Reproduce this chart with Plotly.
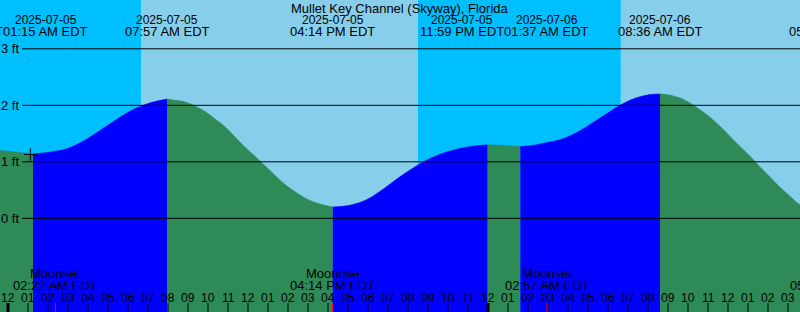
import plotly.graph_objects as go
import pandas as pd

station = "Mullet Key Channel (Skyway), Florida"
view_start = "2025-07-04 23:36"
view_end = "2025-07-06 15:36"
y_min, y_max = -1.658, 3.864

# water level readings (ft)
level_times = [
    "2025-07-04 22:17", "2025-07-04 23:36", "2025-07-05 01:15", "2025-07-05 02:05",
    "2025-07-05 02:56", "2025-07-05 03:44", "2025-07-05 04:35", "2025-07-05 05:26",
    "2025-07-05 06:14", "2025-07-05 07:05", "2025-07-05 07:57",
    "2025-07-05 08:21", "2025-07-05 08:51", "2025-07-05 09:21", "2025-07-05 09:51",
    "2025-07-05 10:21", "2025-07-05 10:51", "2025-07-05 11:21", "2025-07-05 11:51",
    "2025-07-05 12:21", "2025-07-05 12:51", "2025-07-05 13:21", "2025-07-05 13:51",
    "2025-07-05 14:21", "2025-07-05 14:51", "2025-07-05 15:21", "2025-07-05 15:51",
    "2025-07-05 16:14", "2025-07-05 17:05", "2025-07-05 17:56", "2025-07-05 18:44",
    "2025-07-05 19:35", "2025-07-05 20:26", "2025-07-05 21:14", "2025-07-05 22:05",
    "2025-07-05 22:56", "2025-07-05 23:59", "2025-07-06 00:50", "2025-07-06 01:37",
    "2025-07-06 02:14", "2025-07-06 03:05", "2025-07-06 03:36", "2025-07-06 04:06",
    "2025-07-06 04:36", "2025-07-06 05:06", "2025-07-06 05:36", "2025-07-06 06:06",
    "2025-07-06 06:36", "2025-07-06 07:06", "2025-07-06 07:36", "2025-07-06 08:06",
    "2025-07-06 08:36", "2025-07-06 09:06", "2025-07-06 09:36", "2025-07-06 10:06",
    "2025-07-06 10:36", "2025-07-06 11:06", "2025-07-06 11:36", "2025-07-06 12:06",
    "2025-07-06 12:36", "2025-07-06 13:06", "2025-07-06 13:36", "2025-07-06 14:06",
    "2025-07-06 14:36", "2025-07-06 15:06", "2025-07-06 15:36", "2025-07-06 17:09",
]
level_ft = [
    1.24, 1.20, 1.14, 1.17,
    1.23, 1.36, 1.55, 1.75,
    1.92, 2.04, 2.11,
    2.09, 2.06, 1.99, 1.89,
    1.76, 1.62, 1.44, 1.26,
    1.10, 0.93, 0.76, 0.60,
    0.47, 0.36, 0.28, 0.23,
    0.20, 0.23, 0.33, 0.51,
    0.73, 0.93, 1.08, 1.19,
    1.26, 1.30, 1.29, 1.27,
    1.29, 1.35, 1.39, 1.46,
    1.55, 1.66, 1.775, 1.89,
    2.00, 2.09, 2.15, 2.19,
    2.20, 2.18, 2.13, 2.04,
    1.92, 1.79, 1.63, 1.45,
    1.27, 1.10, 0.91, 0.73,
    0.55, 0.39, 0.24, 0.05,
]

# high / low tide events
event_times = ["2025-07-04 22:17", "2025-07-05 01:15", "2025-07-05 07:57", "2025-07-05 16:14",
               "2025-07-05 23:59", "2025-07-06 01:37", "2025-07-06 08:36", "2025-07-06 17:09"]
event_kind = ["high", "low", "high", "low", "high", "low", "high", "low"]
event_date_text = ["2025-07-04", "2025-07-05", "2025-07-05", "2025-07-05",
                   "2025-07-05", "2025-07-06", "2025-07-06", "2025-07-06"]
event_time_text = ["10:17 PM EDT", "01:15 AM EDT", "07:57 AM EDT", "04:14 PM EDT",
                   "11:59 PM EDT", "01:37 AM EDT", "08:36 AM EDT", "05:09 PM EDT"]

# night spans (sunset -> sunrise)
night_start = ["2025-07-04 20:31", "2025-07-05 20:30"]
night_end = ["2025-07-05 06:39", "2025-07-06 06:38"]

# moon events
moon_times = ["2025-07-05 02:22", "2025-07-05 16:14", "2025-07-06 02:57", "2025-07-06 17:13"]
moon_kind = ["Moonset", "Moonrise", "Moonset", "Moonrise"]
moon_time_text = ["02:22 AM EDT", "04:14 PM EDT", "02:57 AM EDT", "05:13 PM EDT"]

now_time, now_level = "2025-07-05 01:07", 1.13

grid_levels = [0, 1, 2, 3]
hour_times = pd.date_range("2025-07-05 00:00", "2025-07-06 15:00", freq="h")
hour_labels = [h.strftime("%I") for h in hour_times]

DAY = "#87CEEB"
NIGHT = "#00BFFF"
FLOOD = "#0000FF"
EBB = "#2E8B57"
FONT = "Liberation Sans, Arial, sans-serif"
W, H = 800, 312

t0, t1 = pd.Timestamp(view_start), pd.Timestamp(view_end)
lt = pd.to_datetime(level_times)
et = pd.to_datetime(event_times)


def px(t):
    return (pd.Timestamp(t) - t0) / (t1 - t0) * W


def py_paper(pix):
    return 1 - pix / H


fig = go.Figure()

# water fills, one per rising/falling segment
for i in range(len(et) - 1):
    a, b = et[i], et[i + 1]
    mask = (lt >= a) & (lt <= b)
    col = FLOOD if event_kind[i] == "low" else EBB
    fig.add_trace(go.Scatter(x=[a, b], y=[y_min - 1, y_min - 1], mode="lines",
                             line=dict(width=0), hoverinfo="skip", showlegend=False))
    fig.add_trace(go.Scatter(x=lt[mask], y=[v for v, m in zip(level_ft, mask) if m],
                             mode="lines",
                             line=dict(width=0.6, shape="spline", smoothing=1.0, color=col),
                             fill="tonexty", fillcolor=col, hoverinfo="skip", showlegend=False))

fig.add_trace(go.Scatter(x=[now_time], y=[now_level], mode="markers",
                         marker=dict(symbol="cross-thin", size=9, line=dict(width=1, color="black")),
                         hoverinfo="skip", showlegend=False))

shapes = []
for s, e in zip(night_start, night_end):
    shapes.append(dict(type="rect", xref="x", yref="paper", x0=s, x1=e, y0=0, y1=1,
                       fillcolor=NIGHT, line=dict(width=0), layer="below"))
for g in grid_levels:
    shapes.append(dict(type="line", xref="paper", yref="y", x0=22 / W, x1=1, y0=g, y1=g,
                       line=dict(color="black", width=1), layer="above"))
for h in hour_times:
    wdt = 3 if h.hour == 0 else 1
    shapes.append(dict(type="line", xref="x", yref="paper", x0=h, x1=h, y0=0, y1=9 / H,
                       line=dict(color="black", width=wdt), layer="above"))
for m in moon_times:
    shapes.append(dict(type="line", xref="x", yref="paper", x0=m, x1=m, y0=0, y1=9 / H,
                       line=dict(color="red", width=1), layer="above"))

ann = []
for g in grid_levels:
    ann.append(dict(text=f"{g} ft", xref="paper", yref="y", x=20 / W, y=g, xanchor="right",
                    yanchor="middle", showarrow=False, font=dict(size=13)))
for h, lab in zip(hour_times, hour_labels):
    ann.append(dict(text=lab, xref="x", yref="paper", x=h, y=py_paper(297.5), xanchor="center",
                    yanchor="middle", showarrow=False, font=dict(size=12)))

# event labels, pushed apart when they would overlap
LW = 85
orig = [px(t) for t in event_times]
cent = list(orig)
for i in range(len(orig) - 1):
    if orig[i + 1] - orig[i] < LW:
        mid = (orig[i] + orig[i + 1]) / 2
        cent[i] = mid - LW / 2
        cent[i + 1] = mid + LW / 2
for c, d, tt in zip(cent, event_date_text, event_time_text):
    ann.append(dict(text=d, xref="paper", yref="paper", x=c / W, y=py_paper(19.5),
                    xanchor="center", yanchor="middle", showarrow=False, font=dict(size=12)))
    ann.append(dict(text=tt, xref="paper", yref="paper", x=c / W, y=py_paper(31.3),
                    xanchor="center", yanchor="middle", showarrow=False, font=dict(size=13)))

for m, k, tt in zip(moon_times, moon_kind, moon_time_text):
    c = px(m)
    ann.append(dict(text=k, xref="paper", yref="paper", x=c / W, y=py_paper(273.8),
                    xanchor="center", yanchor="middle", showarrow=False, font=dict(size=13)))
    ann.append(dict(text=tt, xref="paper", yref="paper", x=c / W, y=py_paper(285.3),
                    xanchor="center", yanchor="middle", showarrow=False, font=dict(size=13)))

ann.append(dict(text=station, xref="paper", yref="paper", x=0.5, y=py_paper(8),
                xanchor="center", yanchor="middle", showarrow=False, font=dict(size=13)))

for a_ in ann:
    a_["borderpad"] = 0

fig.update_layout(
    width=W, height=H, autosize=False,
    margin=dict(l=0, r=0, t=0, b=0, pad=0),
    plot_bgcolor=DAY, paper_bgcolor=DAY,
    font=dict(family=FONT, color="black", size=13),
    xaxis=dict(type="date", range=[t0, t1], visible=False, fixedrange=True),
    yaxis=dict(range=[y_min, y_max], visible=False, fixedrange=True),
    shapes=shapes, annotations=ann, showlegend=False,
)

fig.write_html("out.html", config={"displayModeBar": False})
